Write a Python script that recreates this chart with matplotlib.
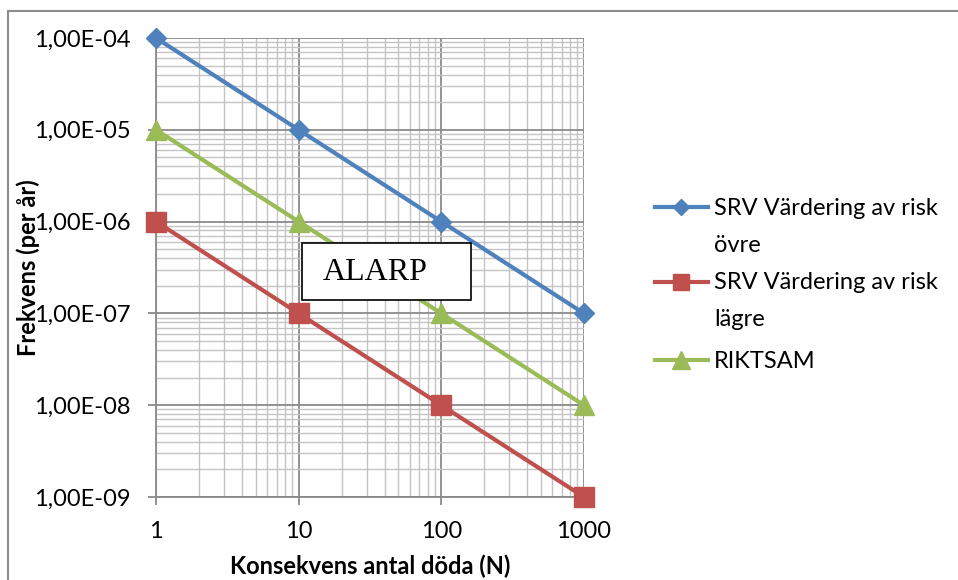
import matplotlib.pyplot as plt
from matplotlib.lines import Line2D
from matplotlib.patches import Rectangle
from matplotlib.ticker import FixedLocator, FuncFormatter, LogLocator, NullFormatter

# data
n_values = [1, 10, 100, 1000]
srv_ovre = [1e-4, 1e-5, 1e-6, 1e-7]
srv_lagre = [1e-6, 1e-7, 1e-8, 1e-9]
riktsam = [1e-5, 1e-6, 1e-7, 1e-8]
y_ticks = [1e-9, 1e-8, 1e-7, 1e-6, 1e-5, 1e-4]

W, H = 958, 580
fig = plt.figure(figsize=(W / 100, H / 100), dpi=100)
plt.rcParams["font.family"] = ["Lato", "DejaVu Sans"]

# outer chart border (only top & left visible)
fig.patches.append(Rectangle((8 / W, -0.05), 1.1, 1 - 11 / H + 0.05,
                             transform=fig.transFigure, fill=False,
                             edgecolor="#8c8c8c", lw=1.5, zorder=0))

ax = fig.add_axes([156 / W, 1 - 497 / H, (584 - 156) / W, (497 - 38) / H])

series = [
    (srv_ovre, "#4F81BD", "D", 10, ["SRV Värdering av risk", "övre"]),
    (srv_lagre, "#C0504D", "s", 14, ["SRV Värdering av risk", "lägre"]),
    (riktsam, "#9BBB59", "^", 15, ["RIKTSAM"]),
]
for vals, col, mk, ms, lab in series:
    ax.plot(n_values, vals, color=col, lw=3, marker=mk, ms=ms,
            label=" ".join(lab), clip_on=False, zorder=5)

ax.set_xscale("log")
ax.set_yscale("log")
ax.set_xlim(1, 1000)
ax.set_ylim(1e-9, 1e-4)

ax.xaxis.set_major_locator(FixedLocator(n_values))
ax.xaxis.set_major_formatter(FuncFormatter(lambda v, p: f"{v:g}"))
ax.xaxis.set_minor_locator(LogLocator(base=10, subs=range(2, 10)))
ax.xaxis.set_minor_formatter(NullFormatter())
ax.yaxis.set_major_locator(FixedLocator(y_ticks))
ax.yaxis.set_major_formatter(FuncFormatter(lambda v, p: f"{v:.2E}".replace(".", ",")))
ax.yaxis.set_minor_locator(LogLocator(base=10, subs=range(2, 10)))
ax.yaxis.set_minor_formatter(NullFormatter())

ax.grid(True, which="major", color="#8a8a8a", lw=1.3)
ax.grid(True, which="minor", color="#c4c4c4", lw=1.0)
ax.set_axisbelow(True)

for s in ["top", "right"]:
    ax.spines[s].set_visible(False)
for s in ["left", "bottom"]:
    ax.spines[s].set_color("#8a8a8a")
    ax.spines[s].set_linewidth(1.3)

ax.tick_params(which="major", length=6, width=1.3, color="#8a8a8a", labelsize=17)
ax.tick_params(axis="x", which="major", pad=11)
ax.tick_params(axis="y", which="major", pad=12)
ax.tick_params(which="minor", length=0)

ax.set_xlabel("Konsekvens antal döda (N)", fontsize=17, fontweight="bold", labelpad=9)
fig.text(28 / W, 1 - 268 / H, "Frekvens (per år)", rotation=90, fontsize=17,
         fontweight="bold", ha="center", va="center")

# ALARP box
fig.patches.append(Rectangle((302 / W, 1 - 300 / H), (471 - 302) / W, (300 - 243) / H,
                             transform=fig.transFigure, facecolor="white",
                             edgecolor="black", lw=1.2, zorder=10))
fig.text(375 / W, 1 - 273 / H, "ALARP", fontsize=23, family="Liberation Serif",
         ha="center", va="center", zorder=11)

# legend, handle aligned with first text line
legend_rows = [207, 282, 360]
line_step = 37
for (vals, col, mk, ms, lab), yrow in zip(series, legend_rows):
    fy = 1 - yrow / H
    fig.add_artist(Line2D([655 / W, 708 / W], [fy, fy], color=col, lw=3,
                          transform=fig.transFigure))
    fig.add_artist(Line2D([681 / W], [fy], color=col, marker=mk, ms=ms * 0.85,
                          transform=fig.transFigure))
    for i, part in enumerate(lab):
        fig.text(714 / W, 1 - (yrow + 1 + i * line_step) / H, part, fontsize=17,
                 ha="left", va="center")

plt.savefig("out.png", dpi=100)
